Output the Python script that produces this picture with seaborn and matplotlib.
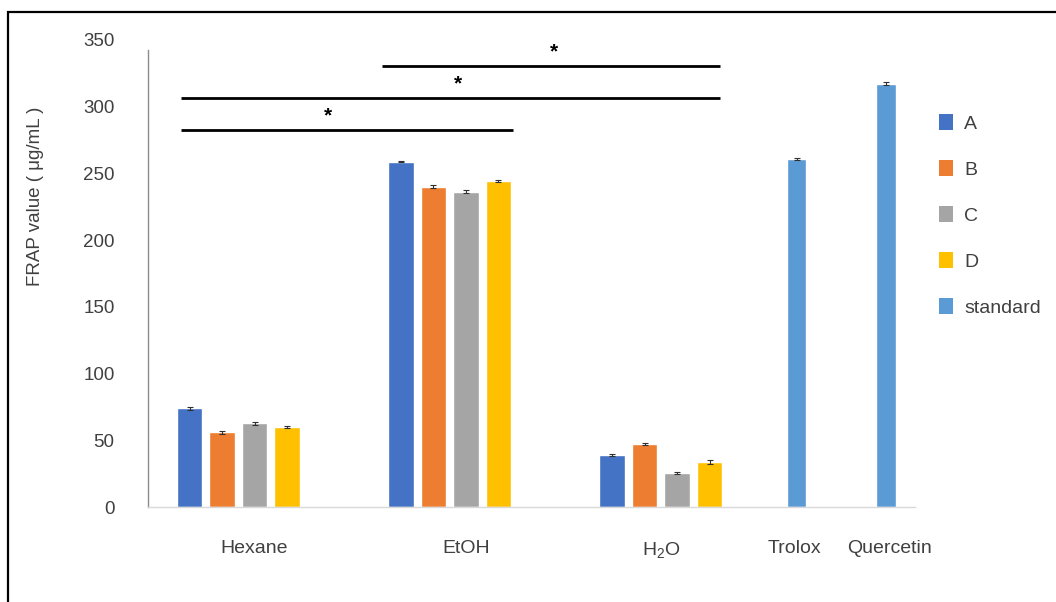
import numpy as np
import pandas as pd
import matplotlib
matplotlib.use("Agg")
import matplotlib.pyplot as plt
import seaborn as sns
from matplotlib.patches import Patch, Rectangle

# ---- data -------------------------------------------------------------
extracts = ["Hexane", "EtOH", "H$_2$O"]
series = ["A", "B", "C", "D"]
frap_A = [74.0, 258.8, 39.0]
frap_B = [56.0, 240.1, 47.2]
frap_C = [62.7, 236.4, 25.5]
frap_D = [60.0, 244.4, 34.0]
sd_A = [1.2, 0.6, 0.5]
sd_B = [1.2, 1.3, 1.0]
sd_C = [1.2, 1.2, 0.8]
sd_D = [0.8, 1.0, 1.4]

standards = ["Trolox", "Quercetin"]
frap_std = [261.1, 317.3]
sd_std = [0.8, 1.0]

y_ticks = [0, 50, 100, 150, 200, 250, 300, 350]

# ---- layout (x in bar-slot units) ---------------------------------------
group_start = [1.22, 7.72, 14.22]
std_pos = [19.9, 22.65]
label_pos = [3.2, 9.72, 15.72, 19.83, 22.74]

palette = {"A": "#4472C4", "B": "#ED7D31", "C": "#A5A5A5", "D": "#FFC000"}
std_color = "#5B9BD5"
text_color = "#404040"

sns.set_theme(style="white")
plt.rcParams["font.family"] = ["Liberation Sans", "DejaVu Sans"]
plt.rcParams["mathtext.default"] = "regular"

values = [frap_A, frap_B, frap_C, frap_D]
errors = [sd_A, sd_B, sd_C, sd_D]
rows = []
for si, s in enumerate(series):
    for gi, e in enumerate(extracts):
        rows.append({"extract": e, "series": s,
                     "pos": group_start[gi] + si,
                     "value": values[si][gi], "sd": errors[si][gi]})
df = pd.DataFrame(rows)
df_std = pd.DataFrame({"standard": standards, "pos": std_pos,
                       "value": frap_std, "sd": sd_std})

fig = plt.figure(figsize=(10.56, 6.02), dpi=100)
ax = fig.add_axes([148 / 1056, 95 / 602, (915 - 148) / 1056, (507 - 40) / 602])

sns.barplot(data=df, x="pos", y="value", hue="series", palette=palette,
            native_scale=True, dodge=False, width=0.79, errorbar=None,
            legend=False, ax=ax, saturation=1)
sns.barplot(data=df_std, x="pos", y="value", color=std_color,
            native_scale=True, width=0.6 / 2.75, errorbar=None,
            ax=ax, saturation=1)

# error bars
ax.errorbar(df["pos"], df["value"], yerr=df["sd"], fmt="none",
            ecolor="#303030", elinewidth=0.8, capsize=2.5, capthick=0.8)
ax.errorbar(df_std["pos"], df_std["value"], yerr=df_std["sd"], fmt="none",
            ecolor="#303030", elinewidth=0.8, capsize=2.5, capthick=0.8)

ax.set_xlim(-0.06, 23.54)
ax.set_ylim(0, 350)
ax.set_yticks(y_ticks)
ax.set_yticklabels([str(v) for v in y_ticks], fontsize=13.5, color=text_color)
ax.set_xticks(label_pos)
ax.set_xticklabels(extracts + standards, fontsize=14, color=text_color)
ax.tick_params(axis="both", length=0)
ax.tick_params(axis="y", pad=24)
ax.tick_params(axis="x", pad=24)
ax.set_xlabel("")
ax.set_ylabel("FRAP value ( μg/mL )", fontsize=13.5, color=text_color)
ax.yaxis.set_label_coords(-0.136, 0.666)

for side in ["top", "right"]:
    ax.spines[side].set_visible(False)
ax.spines["left"].set_color("#8C8C8C")
ax.spines["left"].set_linewidth(1.0)
ax.spines["left"].set_bounds(0, 342.5)
ax.spines["bottom"].set_color("#D9D9D9")
ax.spines["bottom"].set_linewidth(1.0)

# significance brackets
brackets = [(7.15, 17.54, 330.7, 12.43),
            (0.94, 17.54, 306.7, 9.48),
            (0.94, 11.17, 282.7, 5.48)]
for x0, x1, yv, xs in brackets:
    ax.plot([x0, x1], [yv, yv], color="black", lw=2.0, solid_capstyle="butt",
            clip_on=False)
    ax.text(xs, yv + 3, "*", ha="center", va="bottom", fontsize=15,
            color="black", fontweight="bold")

# legend
handles = [Patch(facecolor=palette[s], edgecolor="none") for s in series]
handles.append(Patch(facecolor=std_color, edgecolor="none"))
fig.legend(handles, series + ["standard"], loc="upper left",
           bbox_to_anchor=(939 / 1056, 1 - 114 / 602), frameon=False,
           fontsize=14, labelcolor=text_color, handlelength=0.7,
           handleheight=0.9, handletextpad=0.6, labelspacing=1.4,
           borderaxespad=0, borderpad=0)

# outer frame
fig.patches.append(Rectangle((8 / 1056, -0.1), 2.0, 1.1 - 12 / 602,
                             transform=fig.transFigure, fill=False,
                             edgecolor="black", lw=1.6, clip_on=False))

fig.savefig("out.png", dpi=100, facecolor="white")
